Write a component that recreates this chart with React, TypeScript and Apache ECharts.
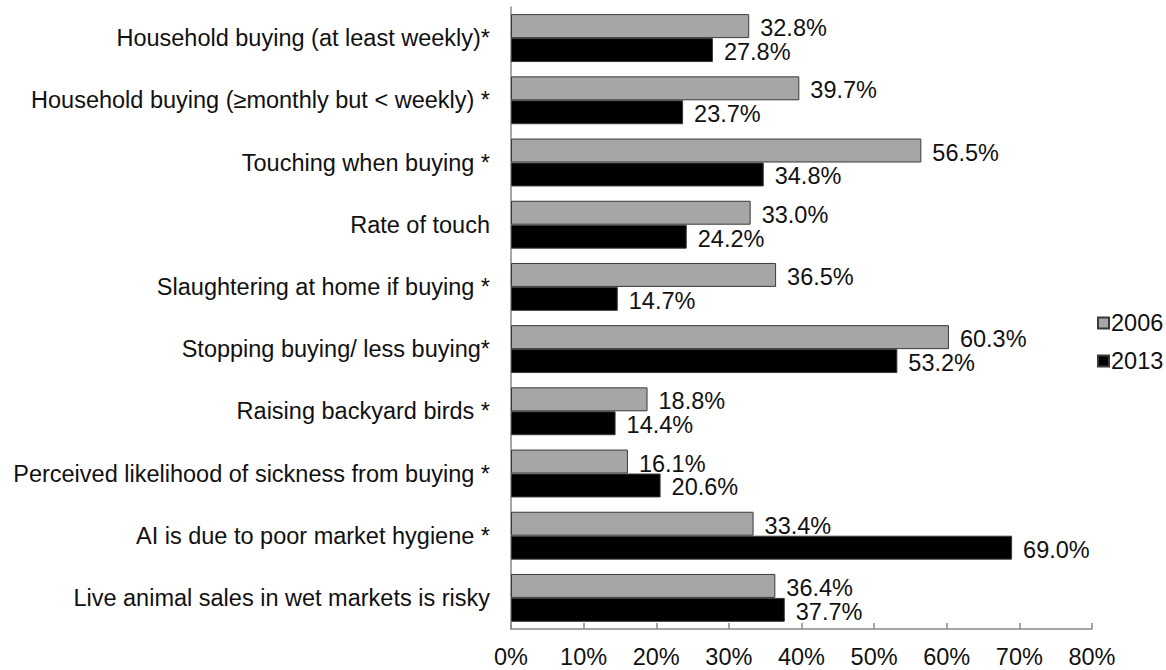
import React, { useEffect, useRef } from "react";
import * as echarts from "echarts";

const categories = [
  "Household buying (at least weekly)*",
  "Household buying (≥monthly but < weekly) *",
  "Touching when buying *",
  "Rate of touch",
  "Slaughtering at home if buying *",
  "Stopping buying/ less buying*",
  "Raising backyard birds *",
  "Perceived likelihood of sickness from buying *",
  "AI is due to poor market hygiene *",
  "Live animal sales in wet markets is risky",
];
const values2006 = [32.8, 39.7, 56.5, 33.0, 36.5, 60.3, 18.8, 16.1, 33.4, 36.4];
const values2013 = [27.8, 23.7, 34.8, 24.2, 14.7, 53.2, 14.4, 20.6, 69.0, 37.7];
const xTicks = [0, 10, 20, 30, 40, 50, 60, 70, 80];

const FONT = "'Liberation Sans', Arial, sans-serif";
const FS = 23.5;

export default function App() {
  const ref = useRef<HTMLDivElement>(null);
  useEffect(() => {
    if (!ref.current) return;
    const chart = echarts.init(ref.current, undefined, { renderer: "svg" });
    const labelCfg = {
      show: true,
      position: "right",
      distance: 11,
      offset: [0, 2],
      fontSize: FS,
      fontFamily: FONT,
      color: "#111",
      formatter: (p: any) => p.value.toFixed(1) + "%",
    };
    chart.setOption({
      animation: false,
      backgroundColor: "#fff",
      textStyle: { fontFamily: FONT },
      grid: { left: 511, top: 7, width: 581, height: 622, containLabel: false },
      legend: {
        orient: "vertical",
        left: 1092,
        top: 306,
        icon: "rect",
        itemWidth: 11,
        itemHeight: 11,
        itemGap: 14,
        textStyle: { fontSize: FS, fontFamily: FONT, color: "#111", padding: [0, 0, 0, -3] },
        data: ["2006", "2013"],
      },
      xAxis: {
        type: "value",
        min: xTicks[0],
        max: xTicks[xTicks.length - 1],
        interval: 10,
        axisLine: { show: true, lineStyle: { color: "#888", width: 1.5 } },
        axisTick: { show: true, inside: true, length: 6, lineStyle: { color: "#888", width: 1.5 } },
        splitLine: { show: false },
        axisLabel: {
          fontSize: FS,
          fontFamily: FONT,
          color: "#111",
          margin: 16,
          formatter: (v: number) => v + "%",
        },
      },
      yAxis: {
        type: "category",
        inverse: true,
        data: categories,
        axisLine: { show: true, lineStyle: { color: "#888", width: 1.5 } },
        axisTick: { show: false },
        axisLabel: { fontSize: FS, fontFamily: FONT, color: "#111", margin: 21 },
      },
      series: [
        {
          name: "2006",
          type: "bar",
          data: values2006,
          barGap: "0%",
          barCategoryGap: "23%",
          itemStyle: { color: "#a6a6a6", borderColor: "#3a3a3a", borderWidth: 1 },
          label: labelCfg,
        },
        {
          name: "2013",
          type: "bar",
          data: values2013,
          barGap: "0%",
          barCategoryGap: "23%",
          itemStyle: { color: "#000", borderColor: "#3a3a3a", borderWidth: 1 },
          label: labelCfg,
        },
      ],
    });
    return () => chart.dispose();
  }, []);
  return (
    <div
      ref={ref}
      style={{ position: "fixed", left: 0, top: 0, width: 1166, height: 670, background: "#fff" }}
    />
  );
}
